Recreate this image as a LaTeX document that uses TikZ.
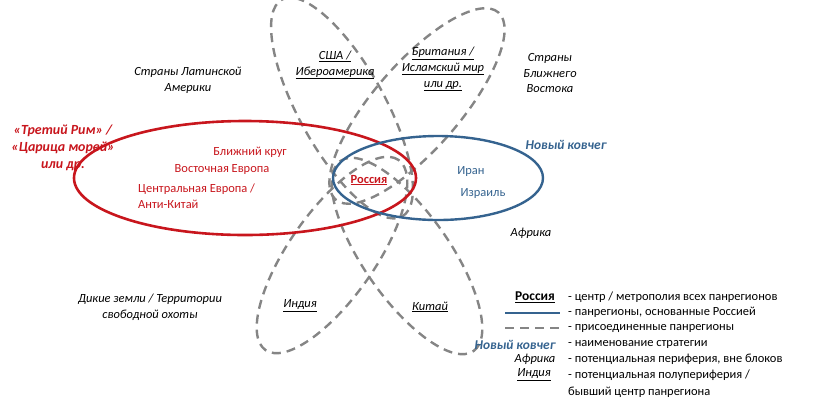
\documentclass[tikz,border=0pt]{standalone}
\usepackage{fontspec}
\setmainfont{Carlito}
\usepackage{tikz}
\usetikzlibrary{positioning}
\definecolor{rusred}{HTML}{C8161D}
\definecolor{arkblue}{HTML}{35638F}
\definecolor{petalgrey}{HTML}{858585}
\tikzstyle{petal} = [draw=petalgrey, line width=2.4bp, dash pattern=on 9bp off 6bp]
\tikzstyle{label} = [font=\fontsize{12.5}{16}\selectfont\itshape, align=center, inner sep=1pt]
\tikzstyle{pan} = [label]
\tikzstyle{redtxt} = [font=\fontsize{12.5}{16}\selectfont, text=rusred, inner sep=1pt]
\tikzstyle{legtxt} = [font=\fontsize{12.5}{15}\selectfont, anchor=west, inner sep=1pt]
\newcommand{\ul}[1]{\underline{#1}}

\begin{document}
\begin{tikzpicture}[x=1bp,y=1bp]
		\useasboundingbox (0,0) rectangle (817,-407);
		% dashed petals
		\draw [petal, rotate around={-61:(342,-108)}] (342,-108) ellipse (124 and 43);
		\draw [petal, rotate around={49:(417,-106)}] (417,-106) ellipse (124 and 43);
		\draw [petal, rotate around={55:(332,-255)}] (332,-255) ellipse (116 and 43);
		\draw [petal, rotate around={-55:(407,-256)}] (407,-256) ellipse (116 and 43);
		% Russian blocks
		\draw [rusred, line width=2.6bp] (245,-178) ellipse (171 and 57);
		\draw [arkblue, line width=2.4bp] (438,-178) ellipse (105 and 42);

		\node [redtxt, font=\fontsize{12.5}{16}\selectfont\bfseries] (rus) at (369,-180) {\ul{Россия}};
		\node [redtxt] (near) at (250,-152) {Ближний круг};
		\node [redtxt] (east) at (222,-170) {Восточная Европа};
		\node [redtxt, align=left, anchor=north west] (cent) at (137,-183) {Центральная Европа /\\Анти-Китай};
		\node [label, text=rusred, font=\fontsize{14}{17}\selectfont\bfseries\itshape] (rome) at (63,-148) {«Третий Рим» /\\«Царица морей»\\или др.};
		\node [redtxt, text=arkblue] (iran) at (471,-172) {Иран};
		\node [redtxt, text=arkblue] (isr) at (483,-194) {Израиль};
		\node [label, text=arkblue, font=\fontsize{13.5}{16}\selectfont\bfseries\itshape] (ark) at (566,-145) {Новый ковчег};

		\node [label] (lat) at (188,-80) {Страны Латинской\\Америки};
		\node [pan] (usa) at (335,-65) {\ul{США /}\\\ul{Ибероамерика}};
		\node [pan] (brit) at (443,-69) {\ul{Британия /}\\\ul{Исламский мир}\\\ul{или др.}};
		\node [label] (mid) at (550,-73) {Страны\\Ближнего\\Востока};
		\node [label] (afr) at (531,-233) {Африка};
		\node [label] (wild) at (150,-307) {Дикие земли / Территории\\свободной охоты};
		\node [pan] (ind) at (300,-306) {\ul{Индия}};
		\node [pan] (chn) at (430,-307) {\ul{Китай}};

		% legend
		\node [legtxt, font=\fontsize{13.5}{15}\selectfont\bfseries, anchor=center] (lgrus) at (535,-297) {\ul{Россия}};
		\coordinate (lgb1) at (505,-313);
		\coordinate (lgb2) at (560,-313);
		\coordinate (lgd1) at (505,-328);
		\coordinate (lgd2) at (560,-328);
		\draw [arkblue, line width=2.4bp] (lgb1) -- (lgb2);
		\draw [petal] (lgd1) -- (lgd2);
		\node [label, text=arkblue, font=\fontsize{13.5}{15}\selectfont\bfseries\itshape] (lgark) at (515,-345) {Новый ковчег};
		\node [label] (lgafr) at (535,-359) {Африка};
		\node [label] (lgind) at (534,-375) {\ul{Индия}};
		\node [legtxt] (d1) at (567,-297) {- центр / метрополия всех панрегионов};
		\node [legtxt] (d2) at (567,-312) {- панрегионы, основанные Россией};
		\node [legtxt] (d3) at (567,-328) {- присоединенные панрегионы};
		\node [legtxt] (d4) at (567,-344) {- наименование стратегии};
		\node [legtxt] (d5) at (567,-359) {- потенциальная периферия, вне блоков};
		\node [legtxt] (d6) at (567,-375) {- потенциальная полупериферия /};
		\node [legtxt] (d7) at (567,-392) {бывший центр панрегиона};
	\end{tikzpicture}
\end{document}
